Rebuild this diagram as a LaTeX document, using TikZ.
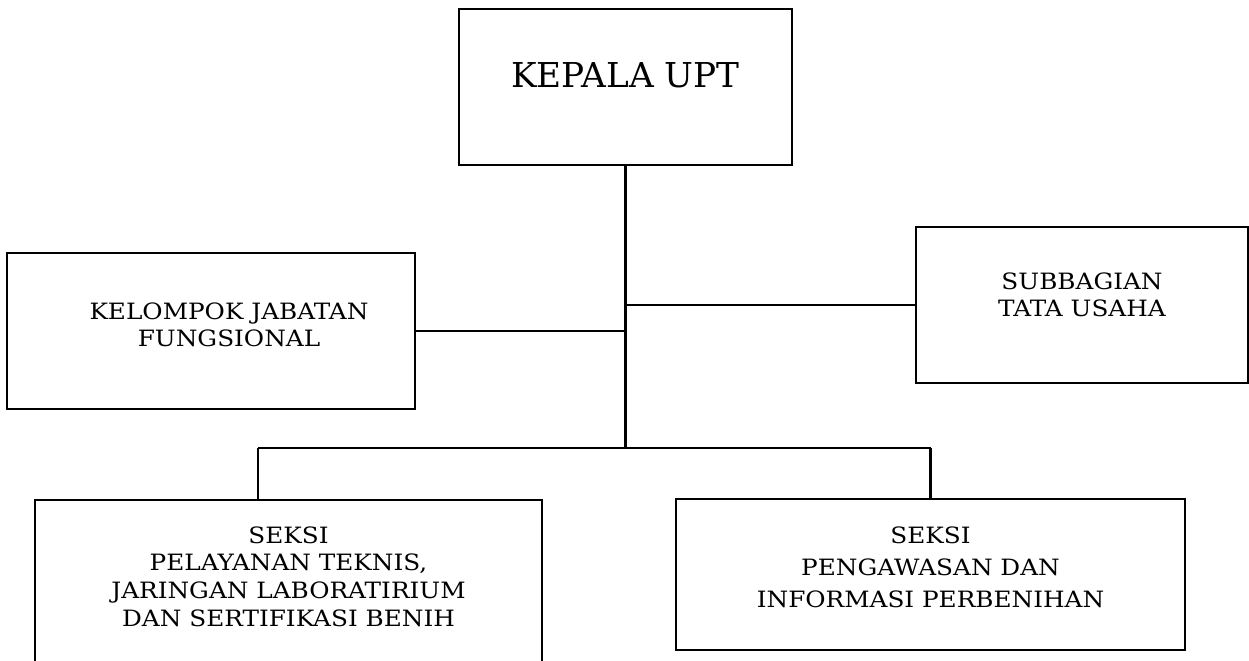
\documentclass[tikz,border=0pt]{standalone}
\usepackage{fontspec}
\setmainfont{DejaVu Serif}
\newfontfamily\boxfont[FakeStretch=1.1]{DejaVu Serif}
\newcommand\rows[2][0pt]{\begin{tabular}{@{\hspace{#1}}c@{}}#2\end{tabular}}
\begin{document}
\begin{tikzpicture}[x=0.02cm,y=-0.02cm,line width=1.15pt,
    unit/.style={draw,rectangle,inner sep=0pt,
      font=\boxfont\fontsize{12.8}{15.3}\selectfont}]
  \useasboundingbox (0,0) rectangle (1249,661);
  % boxes
  \node[unit,minimum width=6.66cm,font=\fontsize{19.5}{23}\selectfont,
    text height=1.58cm,text depth=1.54cm]
    (kepala) at (625.5,87) {KEPALA UPT};
  \node[unit,minimum width=8.16cm,text height=1.6cm,text depth=1.52cm]
    (kelompok) at (211,331) {\rows[0.72cm]{KELOMPOK JABATAN\\FUNGSIONAL}};
  \node[unit,minimum width=6.64cm,text height=1.52cm,text depth=1.6cm]
    (subbag) at (1082,305) {\rows{SUBBAGIAN\\TATA USAHA}};
  \node[unit,minimum width=10.14cm,text height=1.69cm,text depth=1.91cm,
    font=\boxfont\fontsize{12.8}{15.7}\selectfont]
    (seksiA) at (288.5,590)
    {\rows{SEKSI\\PELAYANAN TEKNIS,\\JARINGAN LABORATIRIUM\\DAN SERTIFIKASI BENIH}};
  \node[unit,minimum width=10.18cm,text height=1.51cm,text depth=1.51cm,
    font=\boxfont\fontsize{12.8}{18}\selectfont]
    (seksiB) at (930.5,574.5)
    {\rows{SEKSI\\PENGAWASAN DAN\\INFORMASI PERBENIHAN}};
  % lines
  \coordinate (bus) at (627,448);
  \coordinate (dropA) at (258,448);
  \draw (kepala.south) -- (kepala.south |- bus);
  \draw (kelompok.east) -- (kelompok.east -| kepala.south);
  \draw (subbag.west) -- (subbag.west -| kepala.south);
  \draw (dropA) -- (dropA -| seksiB.north);
  \draw (dropA) -- (dropA |- seksiA.north);
  \draw (dropA -| seksiB.north) -- (seksiB.north);
\end{tikzpicture}
\end{document}
